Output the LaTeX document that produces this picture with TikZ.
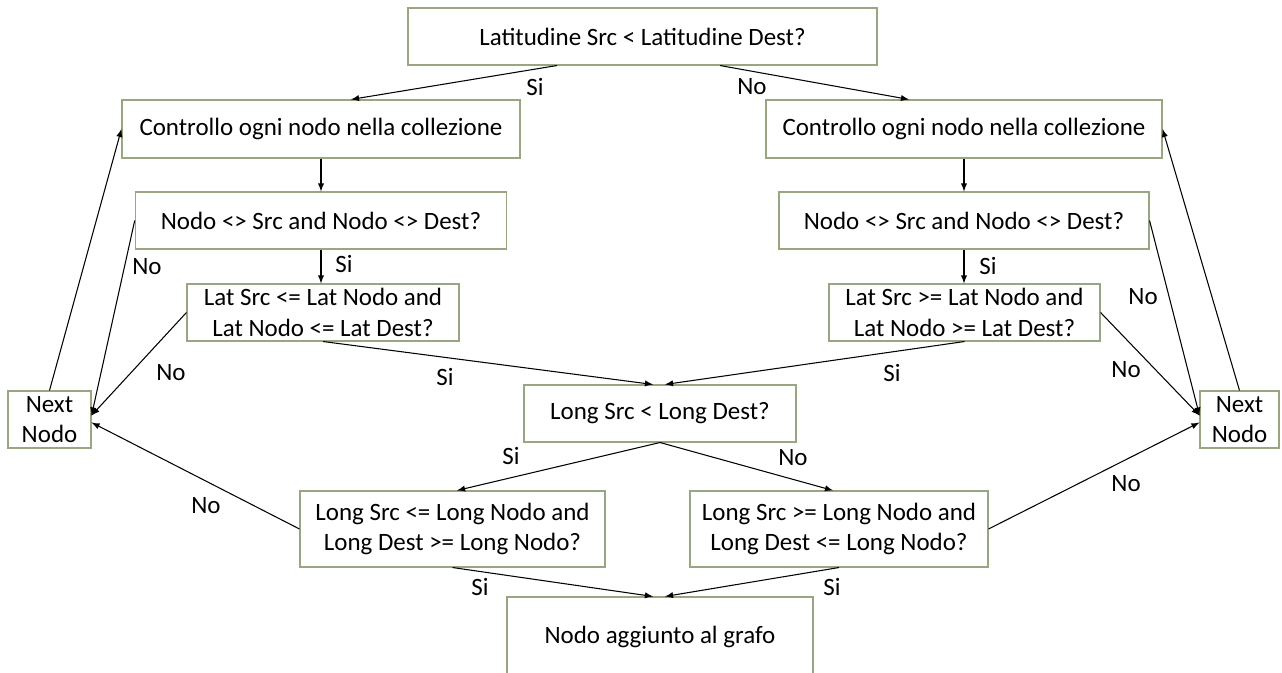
\documentclass[tikz,border=0pt]{standalone}
\usepackage{fontspec}
\setmainfont{Carlito}
\usepackage{tikz}
\usetikzlibrary{arrows}
\definecolor{boxline}{RGB}{152,166,130}
\tikzset{
  flowbox/.style={draw=boxline,line width=0.6pt,rectangle,inner sep=0pt,align=center,
    font=\fontsize{14.2}{17.3}\selectfont},
  answer/.style={inner sep=0pt,font=\fontsize{14.2}{17.3}\selectfont},
  flow/.style={-latex,line width=0.6pt,black}
}
\begin{document}
\begin{tikzpicture}
%
\useasboundingbox (0,0) rectangle (25.64cm,13.46cm);
%
\node[flowbox,minimum width=9.38cm,minimum height=1.14cm] (lat) at (12.85cm,12.73cm) {Latitudine Src < Latitudine Dest?};
\node[flowbox,minimum width=7.96cm,minimum height=1.16cm] (ctrlL) at (6.42cm,10.88cm) {Controllo ogni nodo nella collezione};
\node[flowbox,minimum width=7.92cm,minimum height=1.16cm] (ctrlR) at (19.28cm,10.88cm) {Controllo ogni nodo nella collezione};
\node[flowbox,minimum width=7.43cm,minimum height=1.14cm] (diffL) at (6.42cm,9.05cm) {Nodo <> Src and Nodo <> Dest?};
\node[flowbox,minimum width=7.40cm,minimum height=1.14cm] (diffR) at (19.28cm,9.05cm) {Nodo <> Src and Nodo <> Dest?};
\node[flowbox,minimum width=5.44cm,minimum height=1.14cm] (latL) at (6.46cm,7.21cm) {Lat Src <= Lat Nodo and\\Lat Nodo <= Lat Dest?};
\node[flowbox,minimum width=5.42cm,minimum height=1.14cm] (latR) at (19.29cm,7.21cm) {Lat Src >= Lat Nodo and\\Lat Nodo >= Lat Dest?};
\node[flowbox,minimum width=5.44cm,minimum height=1.14cm] (lng) at (13.2cm,5.19cm) {Long Src < Long Dest?};
\node[flowbox,minimum width=6.10cm,minimum height=1.52cm] (lngL) at (9.05cm,2.88cm) {Long Src <= Long Nodo and\\Long Dest >= Long Nodo?};
\node[flowbox,minimum width=5.96cm,minimum height=1.52cm] (lngR) at (16.78cm,2.88cm) {Long Src >= Long Nodo and\\Long Dest <= Long Nodo?};
\node[flowbox,minimum width=1.66cm,minimum height=1.14cm] (nextL) at (0.99cm,5.07cm) {Next\\Nodo};
\node[flowbox,minimum width=1.58cm,minimum height=1.14cm] (nextR) at (24.79cm,5.07cm) {Next\\Nodo};
\node[flowbox,minimum width=6.12cm,minimum height=1.60cm] (added) at (13.2cm,0.72cm) {Nodo aggiunto al grafo};
%
\node[answer] (siLat) at (10.7cm,11.72cm) {Si};
\node[answer] (noLat) at (15.04cm,11.72cm) {No};
\node[answer] (siDiffL) at (6.88cm,8.18cm) {Si};
\node[answer] (siDiffR) at (19.76cm,8.14cm) {Si};
\node[answer] (noDiffL) at (2.94cm,8.12cm) {No};
\node[answer] (noDiffR) at (22.86cm,7.52cm) {No};
\node[answer] (noLatL) at (3.42cm,6.0cm) {No};
\node[answer] (noLatR) at (22.52cm,6.06cm) {No};
\node[answer] (siLatL) at (8.9cm,5.92cm) {Si};
\node[answer] (siLatR) at (17.84cm,6.0cm) {Si};
\node[answer] (siLng) at (10.22cm,4.34cm) {Si};
\node[answer] (noLng) at (15.86cm,4.3cm) {No};
\node[answer] (noLngL) at (4.12cm,3.34cm) {No};
\node[answer] (noLngR) at (22.52cm,3.78cm) {No};
\node[answer] (siLngL) at (9.6cm,1.72cm) {Si};
\node[answer] (siLngR) at (16.64cm,1.72cm) {Si};
%
\draw[flow] ([xshift=-1.71cm]lat.south) -- ([xshift=0.6cm]ctrlL.north);
\draw[flow] ([xshift=1.55cm]lat.south) -- ([xshift=-1.1cm]ctrlR.north);
\draw[flow] (ctrlL.south) -- (diffL.north);
\draw[flow] (ctrlR.south) -- (diffR.north);
\draw[flow] (diffL.south) -- (diffL.south |- latL.north);
\draw[flow] (diffR.south) -- (diffR.south |- latR.north);
\draw[flow] (latL.south) -- ([xshift=-0.14cm]lng.north);
\draw[flow] (latR.south) -- ([xshift=0.1cm]lng.north);
\draw[flow] (lng.south) -- ([xshift=0.09cm]lngL.north);
\draw[flow] (lng.south) -- ([xshift=-0.12cm]lngR.north);
\draw[flow] (lngL.south) -- ([xshift=-0.14cm]added.north);
\draw[flow] (lngR.south) -- ([xshift=0.1cm]added.north);
%
\draw[flow] (diffL.west) -- ([yshift=0.08cm]nextL.east);
\draw[flow] (latL.west) -- ([yshift=0.08cm]nextL.east);
\draw[flow] (lngL.west) -- ([yshift=-0.06cm]nextL.east);
\draw[flow] (nextL.north) -- (ctrlL.west);
\draw[flow] (diffR.east) -- ([yshift=0.08cm]nextR.west);
\draw[flow] (latR.east) -- ([yshift=0.08cm]nextR.west);
\draw[flow] (lngR.east) -- ([yshift=-0.06cm]nextR.west);
\draw[flow] (nextR.north) -- (ctrlR.east);
%
\end{tikzpicture}
\end{document}
